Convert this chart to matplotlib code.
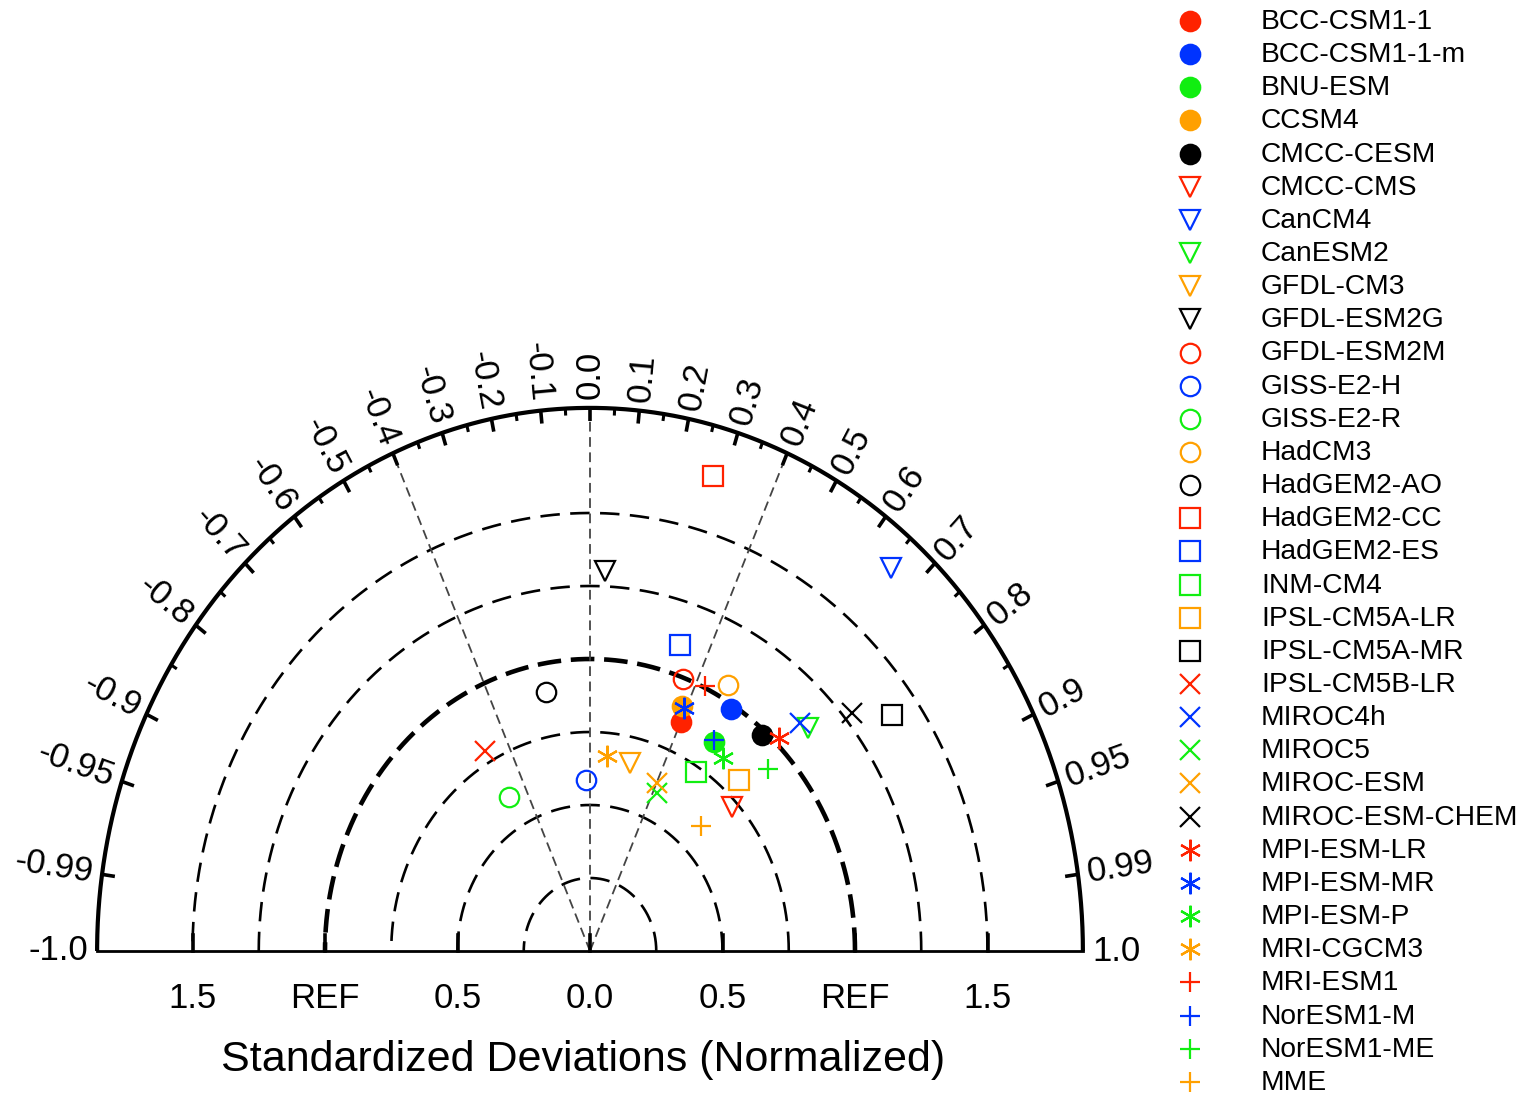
import numpy as np
import matplotlib
matplotlib.use("Agg")
import matplotlib.pyplot as plt

plt.rcParams['font.family'] = ['Liberation Sans', 'DejaVu Sans']
plt.rcParams['lines.scale_dashes'] = False

# ---------------- data ----------------
models = ["BCC-CSM1-1", "BCC-CSM1-1-m", "BNU-ESM", "CCSM4", "CMCC-CESM",
          "CMCC-CMS", "CanCM4", "CanESM2", "GFDL-CM3", "GFDL-ESM2G",
          "GFDL-ESM2M", "GISS-E2-H", "GISS-E2-R", "HadCM3", "HadGEM2-AO",
          "HadGEM2-CC", "HadGEM2-ES", "INM-CM4", "IPSL-CM5A-LR", "IPSL-CM5A-MR",
          "IPSL-CM5B-LR", "MIROC4h", "MIROC5", "MIROC-ESM", "MIROC-ESM-CHEM",
          "MPI-ESM-LR", "MPI-ESM-MR", "MPI-ESM-P", "MRI-CGCM3", "MRI-ESM1",
          "NorESM1-M", "NorESM1-ME", "MME"]
corr = [0.400, 0.540, 0.547, 0.381, 0.660,
        0.735, 0.655, 0.734, 0.228, 0.043,
        0.352, -0.026, -0.500, 0.497, -0.184,
        0.275, 0.309, 0.546, 0.693, 0.815,
        -0.500, 0.712, 0.426, 0.405, 0.771,
        0.699, 0.393, 0.605, 0.094, 0.431,
        0.543, 0.734, 0.699]
std = [0.856, 0.984, 0.856, 0.908, 0.985,
       0.728, 1.735, 1.123, 0.662, 1.302,
       0.994, 0.586, 0.610, 1.050, 0.903,
       1.692, 1.102, 0.733, 0.813, 1.396,
       0.792, 1.113, 0.597, 0.628, 1.281,
       1.018, 0.904, 0.829, 0.671, 1.006,
       0.861, 0.917, 0.598]

RED, BLUE, GREEN, ORANGE, BLACK = "#ff2200", "#0033ff", "#11ee11", "#ffa000", "#000000"
colors = [RED, BLUE, GREEN, ORANGE, BLACK] * 5 + [RED, BLUE, GREEN, ORANGE] * 2
ASTER = (6, 2, 0)
markers = ["o"] * 5 + ["v"] * 5 + ["o"] * 5 + ["s"] * 5 + ["x"] * 5 + [ASTER] * 4 + ["+"] * 4
filled = [True] * 5 + [False] * 28

corr_major = [0.0, 0.1, 0.2, 0.3, 0.4, 0.5, 0.6, 0.7, 0.8, 0.9, 0.95, 0.99]
corr_minor = [0.05, 0.15, 0.25, 0.35, 0.45, 0.55, 0.65, 0.75, 0.85]
std_ticks = [-1.5, -1.0, -0.5, 0.0, 0.5, 1.0, 1.5]
std_labels = ["1.5", "REF", "0.5", "0.0", "0.5", "REF", "1.5"]
rms_arcs = [0.25, 0.5, 0.75, 1.25, 1.5]
ref_std = 1.0
radial_lines = [-0.4, 0.0, 0.4]
R = 1.86

# ---------------- figure ----------------
W, H = 1528, 1094
fig = plt.figure(figsize=(W / 100, H / 100), dpi=100)
sx, sy = 265.0, 292.0          # pixels per data unit
x0p, y0p = 590.0, 951.0        # origin in pixels
xl = (-2.1, 2.1)
yl = (-0.45, 2.05)
left = (x0p + xl[0] * sx) / W
width = (xl[1] - xl[0]) * sx / W
bottom = (H - (y0p - yl[0] * sy)) / H
height = (yl[1] - yl[0]) * sy / H
ax = fig.add_axes([left, bottom, width, height])
ax.set_xlim(*xl)
ax.set_ylim(*yl)
ax.axis("off")

th = np.linspace(0, np.pi, 1441)

def pdir(theta):
    ux, uy = np.cos(theta) * sx, np.sin(theta) * sy
    n = np.hypot(ux, uy)
    return ux / n, uy / n

# arcs of constant standard deviation
for r in rms_arcs:
    ax.plot(r * np.cos(th), r * np.sin(th), color="k", lw=1.9,
            linestyle=(0, (14, 7.5)), zorder=2)
ax.plot(ref_std * np.cos(th), ref_std * np.sin(th), color="k", lw=3.3,
        linestyle=(0, (17, 7)), zorder=2)

# radial dashed lines
for c in radial_lines:
    t = np.arccos(c)
    ax.plot([0, R * np.cos(t)], [0, R * np.sin(t)], color="#444444", lw=1.3,
            linestyle=(0, (7, 4)), zorder=2)

# outer arc and baseline
ax.plot(R * np.cos(th), R * np.sin(th), color="k", lw=3.0, zorder=3,
        solid_capstyle="butt")
ax.plot([-R, R], [0, 0], color="k", lw=2.0, zorder=3)

# baseline ticks
for s in std_ticks:
    ax.plot([s, s], [0, 16 / sy], color="k", lw=2.6, zorder=3)

# std labels
for s, lab in zip(std_ticks, std_labels):
    ax.text(s, -47 / sy, lab, ha="center", va="center", fontsize=25)

ax.text(-7 / sx, -109 / sy, "Standardized Deviations (Normalized)",
        ha="center", va="center", fontsize=31)

# correlation ticks & labels
def tick(c, L, lw):
    t = np.arccos(c)
    ux, uy = pdir(t)
    xa, ya = R * np.cos(t), R * np.sin(t)
    ax.plot([xa, xa - ux * L / sx], [ya, ya - uy * L / sy], color="k", lw=lw,
            zorder=3, solid_capstyle="butt")

for c in corr_major:
    tick(c, 13, 2.6)
    if c != 0:
        tick(-c, 13, 2.6)
for c in corr_minor:
    tick(c, 7, 2.2)
    tick(-c, 7, 2.2)

def fmt(c):
    if c in (0.95, 0.99, -0.95, -0.99):
        return "%.2f" % c
    return "%.1f" % c

label_vals = [-1.0, -0.99, -0.95] + [-v for v in corr_major[::-1][2:] if v != 0] \
             + corr_major + [1.0]
for c in label_vals:
    t = np.arccos(c)
    ux, uy = pdir(t)
    off = 9.0
    xa = R * np.cos(t) + ux * off / sx
    ya = R * np.sin(t) + uy * off / sy
    ang = np.degrees(np.arctan2(uy, ux))
    lab = "0.0" if c == 0 else fmt(c)
    if c >= 0:
        ax.text(xa, ya, lab, rotation=ang, rotation_mode="anchor",
                ha="left", va="center", fontsize=25)
    else:
        ax.text(xa, ya, lab, rotation=ang - 180, rotation_mode="anchor",
                ha="right", va="center", fontsize=25)

# model points
for name, c, s, col, m, f in zip(models, corr, std, colors, markers, filled):
    t = np.arccos(c)
    ms = 15.5 if m == ASTER else 14
    ax.plot(s * np.cos(t), s * np.sin(t), linestyle="none", marker=m,
            markersize=ms, markeredgewidth=1.6, color=col,
            markerfacecolor=col if f else "none", zorder=5, clip_on=False)

# legend (pixel overlay)
lg = fig.add_axes([0, 0, 1, 1])
lg.set_xlim(0, W)
lg.set_ylim(H, 0)
lg.axis("off")
lg.patch.set_alpha(0)
y_first, dy = 21.0, 33.15
for i, (name, col, m, f) in enumerate(zip(models, colors, markers, filled)):
    yy = y_first + i * dy
    ms = 15.5 if m == ASTER else 14
    lg.plot(1190, yy, linestyle="none", marker=m, markersize=ms,
            markeredgewidth=1.6, color=col,
            markerfacecolor=col if f else "none")
    lg.text(1261, yy + 1, name, ha="left", va="center", fontsize=20.3)

fig.savefig("out.png", dpi=100)
